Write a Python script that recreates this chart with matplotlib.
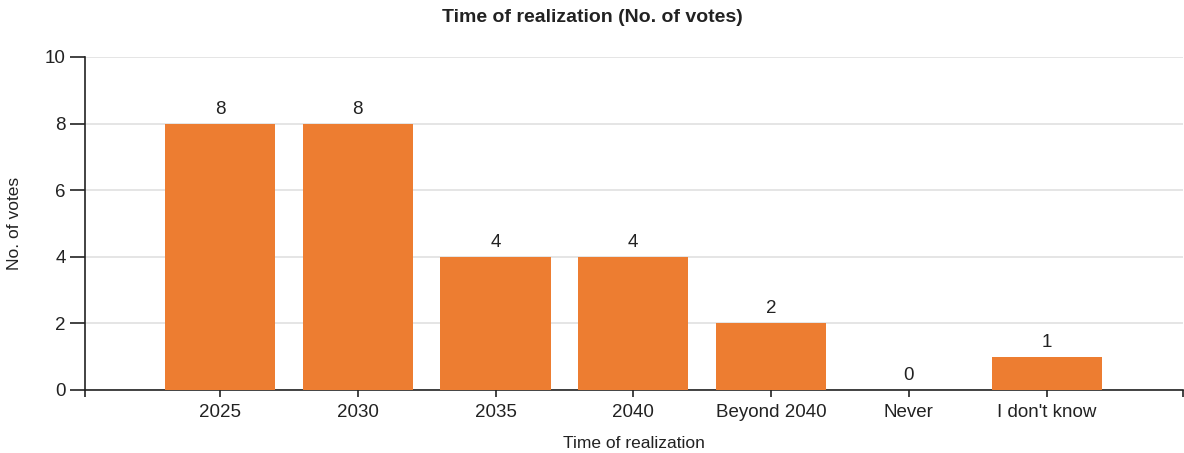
import matplotlib
matplotlib.use('Agg')
import matplotlib.pyplot as plt
import numpy as np

categories = ['2025', '2030', '2035', '2040', 'Beyond 2040', 'Never', "I don't know"]
votes = [8, 8, 4, 4, 2, 0, 1]
yticks = [0, 2, 4, 6, 8, 10]

plt.rcParams['font.family'] = ['Liberation Sans', 'DejaVu Sans']

fig = plt.figure(figsize=(11.84, 4.53), dpi=100)
ax = fig.add_axes([85 / 1184, 1 - 390 / 453, (1183 - 85) / 1184, (390 - 57) / 453])

x = np.arange(len(categories))
ax.bar(x, votes, width=0.8, color='#ED7D31', zorder=3)
for xi, v in zip(x, votes):
    ax.text(xi, v + 0.3, str(v), ha='center', va='baseline', fontsize=13.5, color='#222222')

ax.set_xlim(-0.98, 6.99)
ax.set_ylim(0, 10)
ax.set_yticks(yticks)
ax.set_xticks(x)
ax.set_xticklabels(categories)
# outer ticks at the ends of the x axis
ax.set_xticks([-0.98, 6.99], minor=True)
ax.tick_params(axis='x', which='minor', length=5, width=1.2, color='#222222')
ax.tick_params(axis='x', which='major', length=5, width=1.2, color='#222222',
               labelsize=13.5, labelcolor='#222222', pad=5)
ax.tick_params(axis='y', which='major', length=10.8, width=1.2, color='#222222',
               labelsize=13.5, labelcolor='#222222', pad=3)

ax.grid(axis='y', color='#e0e0e0', linewidth=1.2, zorder=0)
for side in ['top', 'right']:
    ax.spines[side].set_visible(False)
for side in ['left', 'bottom']:
    ax.spines[side].set_color('#222222')
    ax.spines[side].set_linewidth(1.2)

ax.set_xlabel('Time of realization', fontsize=12.5, color='#222222', va='top')
ax.xaxis.set_label_coords(0.5, -(436 - 390) / 333)
ax.set_ylabel('No. of votes', fontsize=12.5, color='#222222')
ax.yaxis.set_label_coords(-(85 - 22) / 1098, 0.5)
fig.text(0.5, 1 - 18 / 453, 'Time of realization (No. of votes)', ha='center', va='center',
         fontsize=14, fontweight='bold', color='#222222')

plt.savefig('out.png', dpi=100)
